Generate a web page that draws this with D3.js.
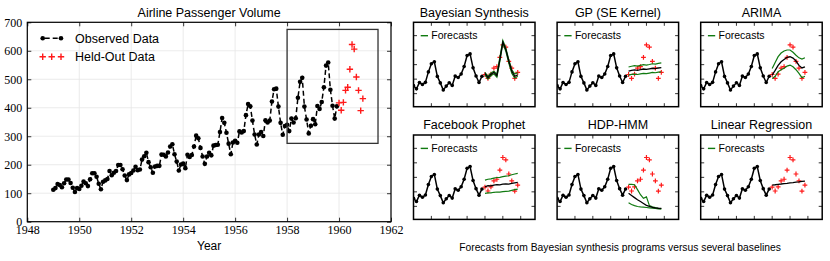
<!DOCTYPE html>
<html><head><meta charset="utf-8">
<script src="https://cdn.jsdelivr.net/npm/d3@7"></script>
<style>
html,body{margin:0;padding:0;background:#fff;}
</style></head>
<body><svg id="c" width="830" height="261"></svg>
<script>
// ---------- data ----------
const startYear = 1949;
const observed = [
 112,118,132,129,121,135,148,148,136,119,104,118,
 115,126,141,135,125,149,170,170,158,133,114,140,
 145,150,178,163,172,178,199,199,184,162,146,166,
 171,180,193,181,183,218,230,242,209,191,172,194,
 196,196,236,235,229,243,264,272,237,211,180,201,
 204,188,235,227,234,264,302,293,259,229,203,229,
 242,233,267,269,270,315,364,347,312,274,237,278,
 284,277,317,313,318,374,413,405,355,306,271,306,
 315,301,356,348,355,422,465,467,404,347,305,336,
 340,318,362,348,363,435,491,505,404,359,310,337,
 360,342,406,396,420,472,548,559,463,407,362,405];
const heldOut = [417,391,419,461,472,535,622,606,508,461,390,432];
const heldOutStart = 1960;

const xTicksMain = [1948,1950,1952,1954,1956,1958,1960,1962];
const yTicksMain = [0,100,200,300,400,500,600,700];
const zoomBox = {x0:1958, x1:1961.5, y0:275, y1:675};

const panelTitles = ["Bayesian Synthesis","GP (SE Kernel)","ARIMA","Facebook Prophet","HDP-HMM","Linear Regression"];
const panelXTicks = [1958.5,1959,1959.5,1960,1960.5,1961];
const panelYTicks = [285,385,485,585,685];
const panelObsMonths = 24;

const bayesMid = [425,395,418,432,410,520,640,590,510,440,405,415];
const bayesHi  = [432,405,428,440,420,535,652,600,520,450,420,430];
const bayesLo  = [415,385,408,422,398,510,630,578,495,425,392,405];
const gpMid = [441,446,449,446,450,455,452,456,460,458,462,464];
const gpHi  = [469,474,478,475,480,485,482,486,491,489,494,497];
const gpLo  = [413,418,420,417,421,425,423,427,431,429,433,436];
const arimaMid = [413,445,480,505,520,535,540,530,510,480,462,470];
const arimaHi  = [459,500,540,565,579,586,586,570,550,532,524,533];
const arimaLo  = [390,405,436,450,460,475,482,470,450,425,395,405];
const prophetMid = [420,428,426,432,435,433,438,440,438,444,447,450];
const prophetHi  = [466,472,474,480,484,485,490,494,496,503,508,512];
const prophetLo  = [374,378,378,382,384,383,386,388,390,395,400,404];
const hdpMid = [375,360,345,330,318,305,292,285,278,274,272,271];
const hdpHi  = [437,436,434,400,365,340,350,290,282,276,272,270];
const hdpLo  = [310,298,290,284,281,279,277,275,272,270,268,266];
const linMid = [432,434,437,439,442,444,447,449,452,454,457,459];

const forecasts = [
  {mid:bayesMid, lo:bayesLo, hi:bayesHi},
  {mid:gpMid, lo:gpLo, hi:gpHi},
  {mid:arimaMid, lo:arimaLo, hi:arimaHi},
  {mid:prophetMid, lo:prophetLo, hi:prophetHi},
  {mid:hdpMid, lo:hdpLo, hi:hdpHi},
  {mid:linMid, lo:null, hi:null}
];

const caption = "Forecasts from Bayesian synthesis programs versus several baselines";

// ---------- helpers ----------
const SANS = "'Liberation Sans', Arial, sans-serif";
const SERIF = "'Liberation Serif', 'DejaVu Serif', serif";
const svg = d3.select("#c").style("font-family", SANS);
const obsPts = observed.map((v,i)=>({t:startYear+i/12, v}));
const heldPts = heldOut.map((v,i)=>({t:heldOutStart+i/12, v}));
const GREEN = "#107a10", RED = "#ff1a1a";

function plus(g, cx, cy, s, sw){
  g.append("path").attr("d",`M${cx-s},${cy}H${cx+s}M${cx},${cy-s}V${cy+s}`)
   .attr("stroke",RED).attr("stroke-width",sw).attr("fill","none");
}

// ---------- main chart ----------
const mx = d3.scaleLinear().domain([1948,1962]).range([27.3,391]);
const my = d3.scaleLinear().domain([0,700]).range([221.7,22.3]);
const m = svg.append("g");

// grid
m.selectAll(".gx").data(xTicksMain).join("line")
 .attr("x1",d=>mx(d)).attr("x2",d=>mx(d)).attr("y1",my(0)).attr("y2",my(700))
 .attr("stroke","#e6e6e6").attr("stroke-width",0.8);
m.selectAll(".gy").data(yTicksMain).join("line")
 .attr("x1",mx(1948)).attr("x2",mx(1962)).attr("y1",d=>my(d)).attr("y2",d=>my(d))
 .attr("stroke","#e6e6e6").attr("stroke-width",0.8);

// axes with inward ticks
const axB = d3.axisBottom(mx).tickValues(xTicksMain).tickFormat(d3.format("d")).tickSizeInner(-4).tickSizeOuter(0).tickPadding(4);
const axT = d3.axisTop(mx).tickValues(xTicksMain).tickFormat("").tickSizeInner(-4).tickSizeOuter(0);
const axL = d3.axisLeft(my).tickValues(yTicksMain).tickSizeInner(-4).tickSizeOuter(0).tickPadding(5);
const axR = d3.axisRight(my).tickValues(yTicksMain).tickFormat("").tickSizeInner(-4).tickSizeOuter(0);
function styleAxis(g){
  g.select(".domain").remove();
  g.attr("font-family", SERIF).attr("font-size", 12);
  g.selectAll(".tick line").attr("stroke","#000").attr("stroke-width",0.8);
  g.selectAll("text").style("font-family", SERIF).attr("font-size",12).attr("fill","#000");
}
m.append("g").attr("transform",`translate(0,${my(0)})`).call(axB).call(styleAxis);
m.append("g").attr("transform",`translate(0,${my(700)})`).call(axT).call(styleAxis);
m.append("g").attr("transform",`translate(${mx(1948)},0)`).call(axL).call(styleAxis);
m.append("g").attr("transform",`translate(${mx(1962)},0)`).call(axR).call(styleAxis);

// observed line
m.append("path").datum(obsPts)
 .attr("d",d3.line().x(d=>mx(d.t)).y(d=>my(d.v)))
 .attr("fill","none").attr("stroke","#000").attr("stroke-width",1.5).attr("stroke-dasharray","5,3");
m.selectAll(".op").data(obsPts).join("circle")
 .attr("cx",d=>mx(d.t)).attr("cy",d=>my(d.v)).attr("r",2.3).attr("fill","#000");
heldPts.forEach(d=>plus(m, mx(d.t), my(d.v), 3.2, 1.4));

// zoom rectangle
m.append("rect").attr("x",mx(zoomBox.x0)).attr("y",my(zoomBox.y1))
 .attr("width",mx(zoomBox.x1)-mx(zoomBox.x0)).attr("height",my(zoomBox.y0)-my(zoomBox.y1))
 .attr("fill","none").attr("stroke","#333").attr("stroke-width",1.3);

// frame
m.append("rect").attr("x",mx(1948)).attr("y",my(700)).attr("width",mx(1962)-mx(1948)).attr("height",my(0)-my(700))
 .attr("fill","none").attr("stroke","#000").attr("stroke-width",1.2);

// title & label
m.append("text").attr("x",(mx(1948)+mx(1962))/2).attr("y",16.5).attr("text-anchor","middle").attr("font-size",12.5).text("Airline Passenger Volume");
m.append("text").attr("x",(mx(1948)+mx(1962))/2).attr("y",250).attr("text-anchor","middle").attr("font-size",12).text("Year");

// legend
const lg = m.append("g");
lg.append("line").attr("x1",42.7).attr("x2",61).attr("y1",38.3).attr("y2",38.3).attr("stroke","#000").attr("stroke-width",1.5).attr("stroke-dasharray","5,3").attr("stroke-dashoffset",-2);
[42.7,61].forEach(x=>lg.append("circle").attr("cx",x).attr("cy",38.3).attr("r",2.3));
lg.append("text").attr("x",75).attr("y",42.6).attr("font-size",12.5).text("Observed Data");
[42.7,51.7,61].forEach(x=>plus(lg,x,56.7,3.2,1.4));
lg.append("text").attr("x",75).attr("y",61).attr("font-size",12.5).text("Held-Out Data");

// ---------- small panels ----------
const pLefts = [413.5,557.1,700.7], pTops = [22.3,135], pW = 121.5, pH = 84.4;
const px = d3.scaleLinear().domain([1958,1961.4]).range([0,pW]);
const py = d3.scaleLinear().domain([195,777]).range([pH,0]);
const panelObs = obsPts.slice(-panelObsMonths);

panelTitles.forEach((title,k)=>{
  const left = pLefts[k%3], top = pTops[Math.floor(k/3)];
  const g = svg.append("g").attr("transform",`translate(${left},${top})`);
  const f = forecasts[k];
  const fPts = arr => arr.map((v,i)=>({t:heldOutStart+i/12, v}));
  const line = d3.line().x(d=>px(d.t)).y(d=>py(d.v));

  g.append("text").attr("x",pW/2).attr("y",-5.6).attr("text-anchor","middle").attr("font-size",12.5).text(title);

  const clip = "clip"+k;
  g.append("clipPath").attr("id",clip).append("rect").attr("width",pW).attr("height",pH);
  const c = g.append("g").attr("clip-path",`url(#${clip})`);

  c.append("path").datum(panelObs).attr("d",line).attr("fill","none").attr("stroke","#000").attr("stroke-width",1.5);
  c.selectAll(".pp").data(panelObs).join("circle").attr("cx",d=>px(d.t)).attr("cy",d=>py(d.v)).attr("r",1.8).attr("fill","#000");
  heldPts.forEach(d=>plus(c, px(d.t), py(d.v), 2.4, 1.2));

  if(f.lo){
    [f.lo,f.hi].forEach(a=>c.append("path").datum(fPts(a)).attr("d",line).attr("fill","none").attr("stroke",GREEN).attr("stroke-width",1.2));
  }
  c.append("path").datum(fPts(f.mid)).attr("d",line).attr("fill","none").attr("stroke","#000").attr("stroke-width",1.3);

  // ticks
  const tk = g.append("g").attr("stroke","#000").attr("stroke-width",0.8);
  panelXTicks.forEach(t=>{
    tk.append("line").attr("x1",px(t)).attr("x2",px(t)).attr("y1",0).attr("y2",3.5);
    tk.append("line").attr("x1",px(t)).attr("x2",px(t)).attr("y1",pH).attr("y2",pH-3.5);
  });
  panelYTicks.forEach(v=>{
    tk.append("line").attr("y1",py(v)).attr("y2",py(v)).attr("x1",0).attr("x2",3.5);
    tk.append("line").attr("y1",py(v)).attr("y2",py(v)).attr("x1",pW).attr("x2",pW-3.5);
  });

  // legend
  g.append("line").attr("x1",7.2).attr("x2",14.5).attr("y1",13.4).attr("y2",13.4).attr("stroke",GREEN).attr("stroke-width",1.4);
  g.append("text").attr("x",17.8).attr("y",17.2).attr("font-size",10.5).text("Forecasts");

  g.append("rect").attr("width",pW).attr("height",pH).attr("fill","none").attr("stroke","#000").attr("stroke-width",1.5);
});

svg.append("text").attr("x",620).attr("y",251).attr("text-anchor","middle").attr("font-size",10.3).text(caption);
</script></body></html>
